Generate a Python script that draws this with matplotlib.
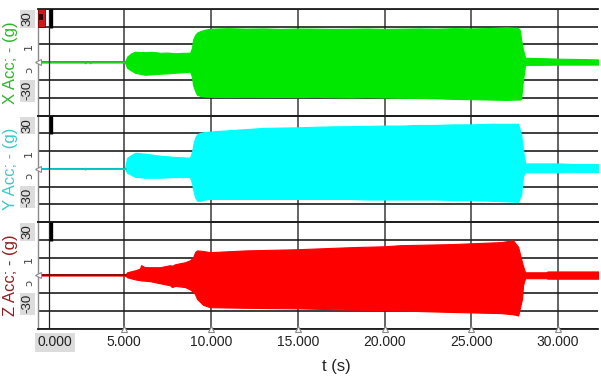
import matplotlib
matplotlib.use("Agg")
import matplotlib.pyplot as plt
from matplotlib.patches import Rectangle
import numpy as np

# ---------------- data ----------------
x_tick_values = [0, 5, 10, 15, 20, 25, 30]
x_tick_labels = ["0.000", "5.000", "10.000", "15.000", "20.000", "25.000", "30.000"]
y_grid_values = [-45, -30, -15, 0, 15, 30, 45]

# X acceleration envelope (g)
x_t = [0.0, 2.70, 2.74, 2.78, 3.00, 3.03, 3.06, 5.04, 5.16, 5.40, 5.62, 6.20, 6.60,
       7.06, 7.50, 7.90, 8.40, 8.79, 8.90, 8.96, 9.08, 9.19, 9.40, 9.65, 10.0,
       11.0, 12.0, 13.0, 14.0, 15.0, 16.0, 17.0, 18.0, 19.0, 20.0, 21.0, 22.0,
       23.0, 24.0, 25.0, 26.0, 27.0, 27.70, 27.80, 27.87, 27.98, 28.10, 29.0,
       30.0, 31.0, 32.3]
x_up = [0, 0, 0.9, 0, 0, 0.9, 0, 0, 4.7, 7.5, 8.9, 8.5, 8.8,
        8.0, 8.2, 7.6, 8.0, 8.0, 12.0, 19.0, 23.0, 25.0, 26.5, 27.5, 28.4,
        28.8, 28.4, 28.6, 28.2, 28.5, 28.4, 28.2, 28.3, 28.5, 28.2, 28.4, 28.6,
        28.4, 28.8, 28.6, 28.9, 29.5, 29.0, 27.0, 19.0, 10.6, 3.8, 3.5,
        3.0, 2.8, 2.4]
x_lo = [0, 0, -0.9, 0, 0, -0.9, 0, 0, -4.7, -7.0, -8.9, -10.6, -10.2,
        -9.7, -9.4, -8.9, -8.5, -8.0, -12.0, -19.0, -24.0, -27.5, -28.5, -29.0, -29.2,
        -29.4, -29.2, -29.4, -29.3, -29.5, -29.2, -29.6, -29.8, -29.5, -29.8, -30.0, -30.2,
        -30.5, -31.0, -31.2, -31.5, -31.8, -31.5, -31.5, -31.0, -15.0, -2.2, -2.2,
        -2.0, -2.0, -2.0]

# Y acceleration envelope (g)
y_t = [0.0, 2.70, 2.74, 2.78, 5.04, 5.16, 5.62, 6.20, 7.06, 7.90, 8.79, 8.90, 9.00,
       9.08, 9.19, 9.40, 9.65, 10.0, 11.0, 12.0, 13.0, 14.0, 15.0, 16.0, 17.0,
       18.0, 19.0, 20.0, 21.0, 22.0, 23.0, 24.0, 25.0, 26.0, 27.0, 27.70, 27.87,
       27.98, 28.10, 29.0, 30.0, 31.0, 32.3]
y_up = [0, 0, 1.0, 0, 0, 9.3, 13.5, 12.7, 11.0, 10.0, 9.3, 14.0, 22.0,
        26.0, 29.0, 30.5, 31.0, 31.5, 32.5, 33.5, 34.5, 34.8, 35.0, 35.5, 35.8,
        36.0, 36.2, 36.5, 36.5, 37.0, 37.0, 37.5, 37.5, 38.0, 38.0, 38.0, 29.0,
        16.0, 4.5, 4.5, 4.5, 4.0, 4.0]
y_lo = [0, 0, -1.0, 0, 0, -3.4, -6.8, -7.6, -7.6, -7.0, -7.0, -12.0, -19.5,
        -24.0, -27.0, -27.0, -26.0, -25.5, -25.5, -25.5, -25.5, -25.5, -25.5, -25.5, -25.5,
        -25.5, -26.0, -26.0, -26.0, -26.0, -26.0, -26.5, -26.5, -27.0, -27.5, -28.0, -22.0,
        -6.0, -3.0, -3.0, -3.0, -2.8, -2.8]

# Z acceleration envelope (g)
z_t = [0.0, 5.04, 5.16, 5.62, 5.90, 5.97, 6.20, 6.48, 7.06, 7.64, 7.75, 7.93, 8.50,
       8.79, 8.96, 9.08, 9.19, 9.54, 9.94, 12.0, 15.0, 18.0, 20.0, 20.9, 23.8,
       26.7, 27.40, 27.70, 27.92, 27.98, 28.10, 29.30, 29.40, 30.0, 31.0, 32.3]
z_up = [0, 0, 2.5, 4.2, 5.5, 8.5, 6.8, 6.8, 6.8, 8.5, 8.0, 9.3, 11.0,
        12.7, 15.0, 19.5, 21.0, 20.5, 19.5, 21.0, 22.0, 23.7, 24.5, 25.4, 26.3,
        28.0, 29.6, 24.0, 11.0, 8.0, 2.5, 2.5, 3.2, 3.2, 3.2, 3.2]
z_lo = [0, 0, -1.7, -3.5, -4.2, -4.4, -4.6, -5.0, -6.8, -8.5, -10.0, -9.0, -10.0,
        -12.0, -14.0, -16.0, -20.0, -25.0, -27.0, -27.5, -28.0, -29.0, -29.6, -29.8, -31.0,
        -32.0, -33.0, -34.0, -20.0, -8.5, -2.5, -2.5, -2.9, -2.9, -2.9, -2.9]

series = [
    dict(t=x_t, up=x_up, lo=x_lo, fill="#00e800", base="#2fc42f",
         label="X Acc; - (g)", lcolor="#2db52d"),
    dict(t=y_t, up=y_up, lo=y_lo, fill="#00ffff", base="#00c4c4",
         label="Y Acc; - (g)", lcolor="#3cc8c8"),
    dict(t=z_t, up=z_up, lo=z_lo, fill="#ff0000", base="#9a0000",
         label="Z Acc; - (g)", lcolor="#8e2222"),
]

signal_start = 5.04
cursor_t = 0.66
cursor_bar_t = 0.75
x_max = 32.3

# ---------------- figure ----------------
W, H = 601, 377
fig = plt.figure(figsize=(W / 100, H / 100), dpi=100)
fig.patch.set_facecolor("white")

left_px, right_px = 37.5, 598.0
tops_px = [9.0, 115.5, 222.0]
panel_h = 106.5

arial = ["Liberation Sans", "DejaVu Sans"]

axes = []
for i, s in enumerate(series):
    top = tops_px[i]
    ax = fig.add_axes([left_px / W, 1 - (top + panel_h) / H,
                       (right_px - left_px) / W, panel_h / H])
    axes.append(ax)
    ax.set_xlim(0, x_max)
    ax.set_ylim(-45, 45)
    ax.set_xticks(x_tick_values)
    ax.set_yticks(y_grid_values)
    ax.grid(axis="y", color="#1e1e1e", lw=1.2, zorder=0)
    ax.grid(axis="x", color="#3a3a3a", lw=1.1, zorder=0)
    ax.set_axisbelow(True)
    ax.tick_params(length=0, labelleft=False, labelbottom=False)
    ax.spines["right"].set_visible(False)
    ax.spines["left"].set_color("#8a8a8a")
    ax.spines["left"].set_linewidth(1.0)
    for sp in ["top", "bottom"]:
        ax.spines[sp].set_color("#1e1e1e")
        ax.spines[sp].set_linewidth(1.3)

    t = np.array(s["t"])
    up = np.array(s["up"])
    lo = np.array(s["lo"])
    ax.fill_between(t, lo, up, color=s["fill"], lw=0.8, edgecolor=s["fill"], zorder=3)
    ax.plot([0, signal_start + 0.05], [0, 0], color=s["base"], lw=1.2, zorder=4)

    # cursor
    ax.axvline(cursor_t, color="#222222", lw=0.9, zorder=5)
    ax.plot([cursor_bar_t, cursor_bar_t], [45, 29], color="black", lw=2.4,
            solid_capstyle="butt", zorder=6)

    # y label
    ax.set_ylabel(s["label"], color=s["lcolor"], fontsize=12, family=arial)
    ax.yaxis.set_label_coords(-0.0345, 0.5)

    # y tick labels in grey boxes
    ytr = ax.get_yaxis_transform()
    box = dict(boxstyle="square,pad=0.1", fc="#dcdcdc", ec="none")
    for val, lab, off in [(30, "30", 5.5), (-30, "-30", 5.0)]:
        ax.annotate(lab, xy=(-0.0180, val), xycoords=ytr,
                    xytext=(0, off), textcoords="offset points",
                    rotation=90, ha="center", va="center", fontsize=9.5,
                    family=arial, color="#222222", bbox=box, annotation_clip=False)
    ax.annotate("1", xy=(-0.0150, 15), xycoords=ytr, xytext=(0, -1.5),
                textcoords="offset points", rotation=90, ha="center",
                va="center", fontsize=8, color="#444444", annotation_clip=False)
    ax.annotate("\u0254", xy=(-0.0150, 0), xycoords=ytr, xytext=(0, -5.5),
                textcoords="offset points", rotation=90, ha="center",
                va="center", fontsize=8, color="#444444", annotation_clip=False)
    ax.plot([0], [0], marker="<", ms=4.5, mfc="white", mec="#8a8a8a",
            mew=0.8, clip_on=False, zorder=7, transform=ytr)

# red marker box top-left of first panel
a0 = axes[0]
a0.add_patch(Rectangle((0.0, 0.83), 0.0125, 0.17, transform=a0.transAxes,
                       fc="#cc1a1a", ec="#7a0000", lw=0.6, zorder=8, clip_on=False))
a0.add_patch(Rectangle((0.003, 0.90), 0.006, 0.05, transform=a0.transAxes,
                       fc="#2a0000", ec="none", zorder=9, clip_on=False))

# bottom axis labels
a3 = axes[2]
a3.tick_params(axis="x", labelbottom=True, pad=5, labelsize=10, labelcolor="#222222")
a3.set_xticklabels(x_tick_labels, family=arial)
lbls = a3.get_xticklabels()
lbls[0].set_ha("left")
lbls[0].set_bbox(dict(boxstyle="square,pad=0.2", fc="#dcdcdc", ec="none"))
a3.plot(x_tick_values[1:], [-45] * (len(x_tick_values) - 1), ls="none",
        marker="^", ms=5, mfc="white", mec="#8a8a8a", mew=0.8,
        clip_on=False, zorder=7)
a3.set_xlabel("t (s)", fontsize=12, family=arial, color="#222222")
a3.xaxis.set_label_coords(0.533, -0.29)

fig.savefig("out.png", dpi=100)
